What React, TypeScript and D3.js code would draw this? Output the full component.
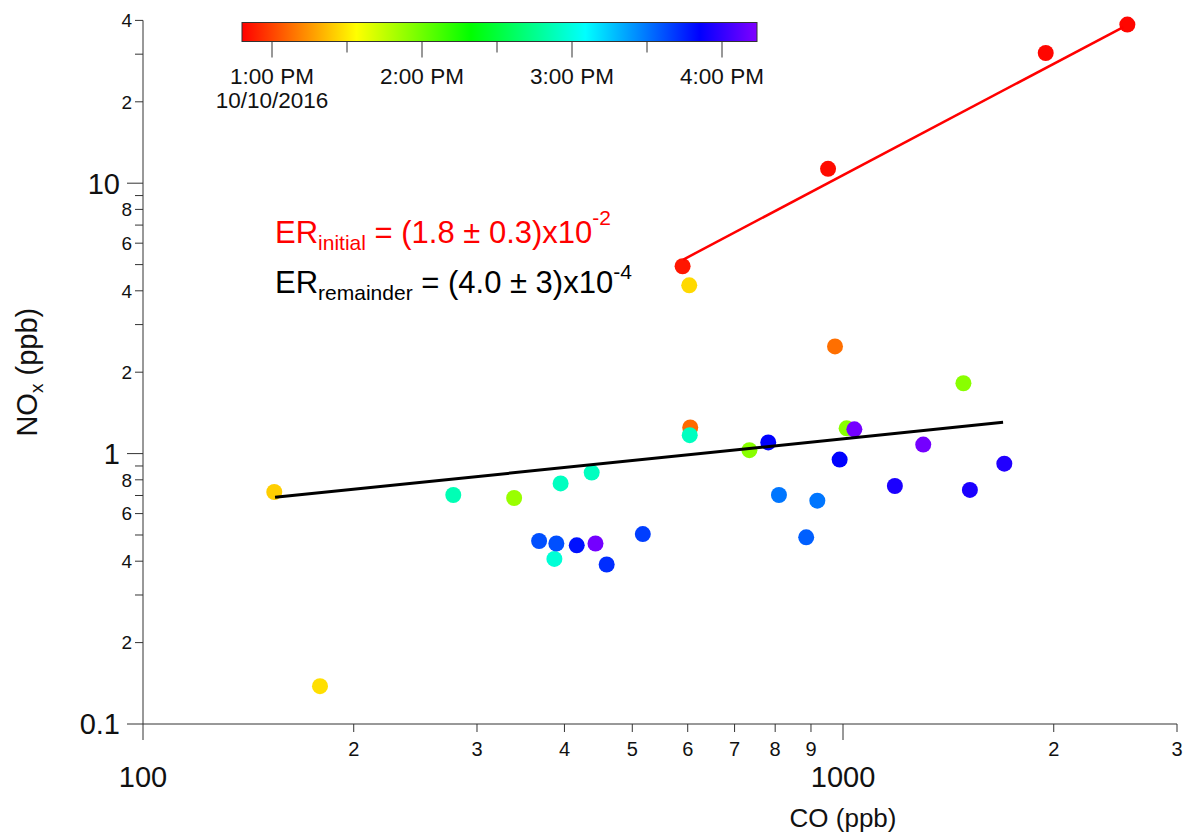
import React from 'react';
import * as d3 from 'd3';

const W = 1186;
const H = 835;
const FONT = '"Liberation Sans", Arial, Helvetica, sans-serif';

// Samples: CO (ppb), NOx (ppb) and local sampling time on 10/10/2016
const coPpb = [
  590, 952, 1948, 2548,
  974, 605, 154, 603, 179,
  339, 1486, 1012, 735,
  277.5, 395, 437.5, 604, 387,
  810, 919, 886, 368, 389.5, 517.6, 459.6, 416.5,
  782, 989, 1186, 1518, 1700,
  443, 1038, 1302,
];
const noxPpb = [
  4.93, 11.3, 30.3, 38.6,
  2.49, 1.25, 0.721, 4.19, 0.138,
  0.685, 1.82, 1.24, 1.03,
  0.703, 0.776, 0.851, 1.17, 0.408,
  0.703, 0.67, 0.49, 0.475, 0.465, 0.504, 0.389, 0.458,
  1.1, 0.95, 0.759, 0.734, 0.918,
  0.465, 1.23, 1.08,
];
const sampleTimes = [
  '12:52', '12:50', '12:49', '12:49',
  '13:08', '13:07', '13:25', '13:27', '13:28',
  '13:52', '13:55', '13:55', '13:55',
  '14:52', '14:54', '14:54', '14:54', '14:58',
  '15:30', '15:30', '15:34', '15:37', '15:37', '15:40', '15:43', '15:48',
  '15:51', '15:51', '15:56', '15:56', '15:57',
  '16:12', '16:12', '16:12',
];

// Fitted emission-ratio lines (end points in CO, NOx)
const initialFitCO = [591.5, 2514];
const initialFitNOx = [5.22, 37.8];
const remainderFitCO = [154.4, 1693];
const remainderFitNOx = [0.689, 1.305];

// Axis ticks
const xTickValues = [100, 200, 300, 400, 500, 600, 700, 800, 900, 1000, 2000, 3000];
const xTickLabels = ['100', '2', '3', '4', '5', '6', '7', '8', '9', '1000', '2', '3'];
const yTickValues = [
  0.1, 0.2, 0.3, 0.4, 0.5, 0.6, 0.7, 0.8, 0.9,
  1, 2, 3, 4, 5, 6, 7, 8, 9,
  10, 20, 30, 40,
];
const yTickLabels = [
  '0.1', '2', '', '4', '', '6', '', '8', '',
  '1', '2', '', '4', '', '6', '', '8', '',
  '10', '2', '', '4',
];

// Colour bar (time) ticks
const colorbarStart = '12:48';
const colorbarEnd = '16:14';
const colorbarTicks = ['13:00', '13:30', '14:00', '14:30', '15:00', '15:30', '16:00'];
const colorbarTickLabels = ['1:00 PM', '', '2:00 PM', '', '3:00 PM', '', '4:00 PM'];
const colorbarDate = '10/10/2016';

const parseClock = d3.timeParse('%Y-%m-%d %H:%M');
const at = (hm: string) => parseClock(`2016-10-10 ${hm}`) as Date;

export default function App() {
  const x = d3.scaleLog().domain([100, 3000]).range([143, 1177]);
  const y = d3.scaleLog().domain([0.1, 40]).range([724, 20.4]);

  const tStart = at(colorbarStart);
  const tEnd = at(colorbarEnd);
  const cb = d3.scaleTime().domain([tStart, tEnd]).range([242, 757]);
  const rainbow = (t: number) => d3.hsl(270 * t, 1, 0.5).formatHex();
  const color = d3.scaleSequential(rainbow).domain([+tStart, +tEnd]);

  const points = coPpb
    .map((co, i) => ({ co, nox: noxPpb[i], time: at(sampleTimes[i]) }))
    .sort((a, b) => +a.time - +b.time);

  const line = d3
    .line<[number, number]>()
    .x((d) => x(d[0]))
    .y((d) => y(d[1]));
  const initialPath = line(initialFitCO.map((c, i) => [c, initialFitNOx[i]]) as [number, number][]);
  const remainderPath = line(remainderFitCO.map((c, i) => [c, remainderFitNOx[i]]) as [number, number][]);

  const isMajor = (v: number) => Math.abs(Math.log10(v) - Math.round(Math.log10(v))) < 1e-9;
  const axisColor = '#333';
  const x0 = x.range()[0];
  const y0 = y.range()[0];

  const stops = d3.range(0, 1.0001, 1 / 36);
  const cbTop = 22.5;
  const cbBottom = 41.5;

  return (
    <svg
      width={W}
      height={H}
      style={{ position: 'absolute', left: 0, top: 0, background: '#fff' }}
      fontFamily={FONT}
    >
      <defs>
        <linearGradient id="timeRamp" x1="0" x2="1" y1="0" y2="0">
          {stops.map((s) => (
            <stop key={s} offset={s} stopColor={rainbow(s)} />
          ))}
        </linearGradient>
      </defs>
      <rect width={W} height={H} fill="#fff" />

      {/* colour bar */}
      <rect
        x={cb.range()[0]}
        y={cbTop}
        width={cb.range()[1] - cb.range()[0]}
        height={cbBottom - cbTop}
        fill="url(#timeRamp)"
        stroke={axisColor}
        strokeWidth={1}
      />
      {colorbarTicks.map((tk, i) => {
        const cx = cb(at(tk));
        const major = colorbarTickLabels[i] !== '';
        return (
          <g key={tk}>
            <line x1={cx} x2={cx} y1={cbBottom} y2={cbBottom + (major ? 16 : 11)} stroke={axisColor} />
            {major && (
              <text x={cx} y={84} fontSize={22.5} textAnchor="middle" fill="#111">
                {colorbarTickLabels[i]}
              </text>
            )}
          </g>
        );
      })}
      <text x={cb(at(colorbarTicks[0]))} y={108} fontSize={22.5} textAnchor="middle" fill="#111">
        {colorbarDate}
      </text>

      {/* axes */}
      <line x1={x0} x2={x0} y1={y.range()[1]} y2={y0} stroke={axisColor} />
      <line x1={x0} x2={x.range()[1]} y1={y0} y2={y0} stroke={axisColor} />
      {yTickValues.map((v, i) => {
        const py = y(v);
        const major = isMajor(v);
        return (
          <g key={`y${v}`}>
            <line x1={x0 - (major ? 16 : 8)} x2={x0} y1={py} y2={py} stroke={axisColor} />
            {yTickLabels[i] !== '' && (
              <text
                x={major ? x0 - 23 : x0 - 11}
                y={py}
                dy="0.36em"
                fontSize={major ? 29 : 19}
                textAnchor="end"
                fill="#111"
              >
                {yTickLabels[i]}
              </text>
            )}
          </g>
        );
      })}
      {xTickValues.map((v, i) => {
        const px = x(v);
        const major = isMajor(v);
        return (
          <g key={`x${v}`}>
            <line x1={px} x2={px} y1={y0} y2={y0 + (major ? 16 : 8)} stroke={axisColor} />
            <text
              x={px}
              y={major ? 787 : 756}
              fontSize={major ? 29 : 20}
              textAnchor="middle"
              fill="#111"
            >
              {xTickLabels[i]}
            </text>
          </g>
        );
      })}

      {/* axis titles */}
      <text x={x(1000)} y={827} fontSize={26} textAnchor="middle" fill="#111">
        CO (ppb)
      </text>
      <text transform={`translate(37, ${(y.range()[0] + y.range()[1]) / 2}) rotate(-90)`} fontSize={29} textAnchor="middle" fill="#111">
        NO
        <tspan fontSize={19} dy={6}>x</tspan>
        <tspan dy={-6}> (ppb)</tspan>
      </text>

      {/* samples */}
      {points.map((p, i) => (
        <circle key={i} cx={x(p.co)} cy={y(p.nox)} r={8} fill={color(+p.time)} />
      ))}

      {/* fits */}
      <path d={initialPath ?? ''} fill="none" stroke="#ff0000" strokeWidth={2.5} />
      <path d={remainderPath ?? ''} fill="none" stroke="#000" strokeWidth={3} />

      {/* emission ratios */}
      <text x={275} y={243} fontSize={31} fill="#ff0000">
        ER
        <tspan fontSize={21} dy={7}>initial</tspan>
        <tspan dy={-7}> = (1.8 ± 0.3)x10</tspan>
        <tspan fontSize={21} dy={-18}>-2</tspan>
      </text>
      <text x={275} y={293} fontSize={31} fill="#000">
        ER
        <tspan fontSize={21} dy={7}>remainder</tspan>
        <tspan dy={-7}> = (4.0 ± 3)x10</tspan>
        <tspan fontSize={21} dy={-14}>-4</tspan>
      </text>
    </svg>
  );
}
